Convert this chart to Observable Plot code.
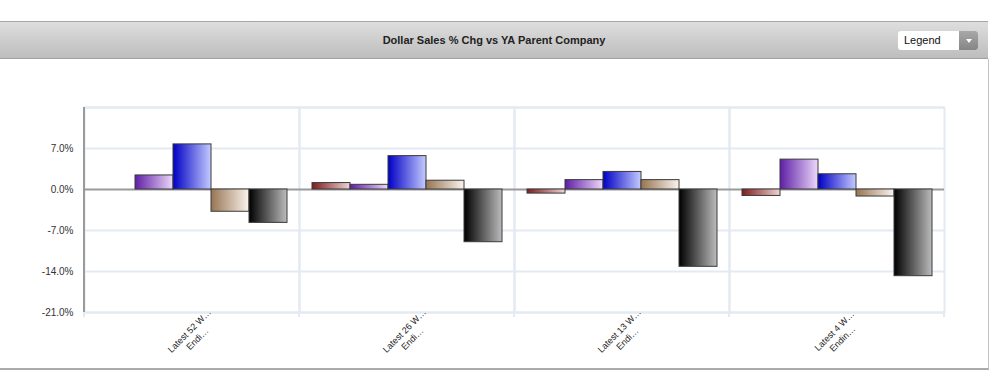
<!DOCTYPE html>
<html><head><meta charset="utf-8">
<script src="https://cdn.jsdelivr.net/npm/d3@7"></script>
<script src="https://cdn.jsdelivr.net/npm/@observablehq/plot@0.6"></script>
<style>
body{margin:0;background:#fff;font-family:"Liberation Sans",Arial,sans-serif;}
#wrap{position:relative;width:992px;height:371px;overflow:hidden;background:#fff;}
#header{position:absolute;left:0;top:21px;width:988px;height:36px;border-top:1px solid #a6a6a6;border-bottom:1px solid #a0a0a0;background:linear-gradient(#dedede,#bdbdbd);}
#title{position:absolute;left:0;top:0;width:988px;line-height:36px;text-align:center;font-weight:bold;font-size:11px;color:#222;}
#legend{position:absolute;left:898px;top:9px;width:80px;height:19px;border-radius:3px;overflow:hidden;background:#fff;}
#legend span{position:absolute;left:6px;top:0;line-height:19px;font-size:11px;color:#111;}
#legend b{position:absolute;right:0;top:0;width:19px;height:19px;background:linear-gradient(#a8a8a8,#858585);}
#legend b:after{content:"";position:absolute;left:7px;top:8px;border-left:3px solid transparent;border-right:3px solid transparent;border-top:4px solid #fff;}
#chart{position:absolute;left:0;top:59px;width:988px;height:309px;border-right:1px solid #c4c4c4;border-bottom:2px solid #aaa;}
</style></head>
<body>
<div id="wrap">
  <div id="header"><div id="title">Dollar Sales % Chg vs YA Parent Company</div>
    <div id="legend"><span>Legend</span><b></b></div></div>
  <div id="chart"></div>
</div>
<script>
const periods = ["Latest 52 Weeks", "Latest 26 Weeks", "Latest 13 Weeks", "Latest 4 Weeks"];
const periodLabels = ["Latest 52 W…\nEndi…", "Latest 26 W…\nEndi…", "Latest 13 W…\nEndi…", "Latest 4 W…\nEndin…"];
const seriesNames = ["Series 1", "Series 2", "Series 3", "Series 4", "Series 5"];
const series1 = [0.0, 1.1, -0.7, -1.1];
const series2 = [2.4, 0.8, 1.6, 5.1];
const series3 = [7.7, 5.7, 3.0, 2.6];
const series4 = [-3.8, 1.5, 1.6, -1.2];
const series5 = [-5.7, -9.0, -13.2, -14.8];
const yTicks = [-21, -14, -7, 0, 7];
const gradientStops = [["#7e1c1c", "#f0d4d4"], ["#5e1ea6", "#ecd8fa"], ["#0000c4", "#c4caff"], ["#977452", "#faf4ee"], ["#000000", "#bcbcbc"]];

const allSeries = [series1, series2, series3, series4, series5];
const data = [];
periods.forEach((p, i) => allSeries.forEach((s, j) => data.push({period: p, series: seriesNames[j], value: s[i]})));

const grid = "#e3eaf1";
const plot = Plot.plot({
  width: 988, height: 309,
  marginLeft: 83, marginRight: 43, marginTop: 48, marginBottom: 56,
  style: {fontFamily: "'Liberation Sans', Arial, sans-serif", background: "transparent"},
  fx: {domain: periods, padding: 0, axis: null, label: null},
  x: {domain: seriesNames, paddingInner: 0, paddingOuter: 0.3, axis: null, label: null},
  y: {domain: [-21, 14], axis: null, label: null},
  color: {type: "ordinal", domain: seriesNames, range: seriesNames.map((_, i) => `url(#grad${i})`)},
  marks: [
    Plot.gridY([-21, -14, -7, 7, 14], {stroke: grid, strokeOpacity: 1, strokeWidth: 2}),
    Plot.frame({stroke: grid, strokeWidth: 2}),
    Plot.ruleY([0], {stroke: "#9a9a9a", strokeWidth: 2}),
    Plot.barY(data, {fx: "period", x: "series", y: "value", fill: "series", stroke: "#3a3a3a", strokeWidth: 1}),
    Plot.axisY(yTicks, {label: null, tickSize: 0, tickPadding: 11, fontSize: 10, fill: "#333", tickFormat: d => d.toFixed(1) + "%"}),
    Plot.axisFx({anchor: "bottom", label: null, tickSize: 0, tickPadding: 0, tickRotate: -45, textAnchor: "middle", lineAnchor: "middle", lineHeight: 1.25, dx: 1, dy: 22, fontSize: 9, fill: "#222", tickFormat: p => periodLabels[periods.indexOf(p)]})
  ]
});
document.getElementById("chart").appendChild(plot);

const svg = d3.select(plot);
const defs = svg.insert("defs", ":first-child");
gradientStops.forEach((c, i) => {
  const g = defs.append("linearGradient").attr("id", `grad${i}`).attr("x1", "0").attr("x2", "1").attr("y1", "0").attr("y2", "0");
  g.append("stop").attr("offset", "0").attr("stop-color", c[0]);
  g.append("stop").attr("offset", "1").attr("stop-color", c[1]);
});
const fx = plot.scale("fx"), y = plot.scale("y");
const yb = y.apply(-21), yt = y.apply(14);
const edges = periods.map(p => fx.apply(p)).concat([fx.apply(periods[periods.length - 1]) + fx.bandwidth]);
const deco = svg.append("g");
edges.forEach(x => deco.append("line").attr("x1", x).attr("x2", x).attr("y1", yb).attr("y2", yb + 5).attr("stroke", grid).attr("stroke-width", 2));
deco.append("line").attr("x1", edges[0]).attr("x2", edges[0]).attr("y1", yt).attr("y2", yb).attr("stroke", "#9a9a9a").attr("stroke-width", 2);
</script>
</body></html>
